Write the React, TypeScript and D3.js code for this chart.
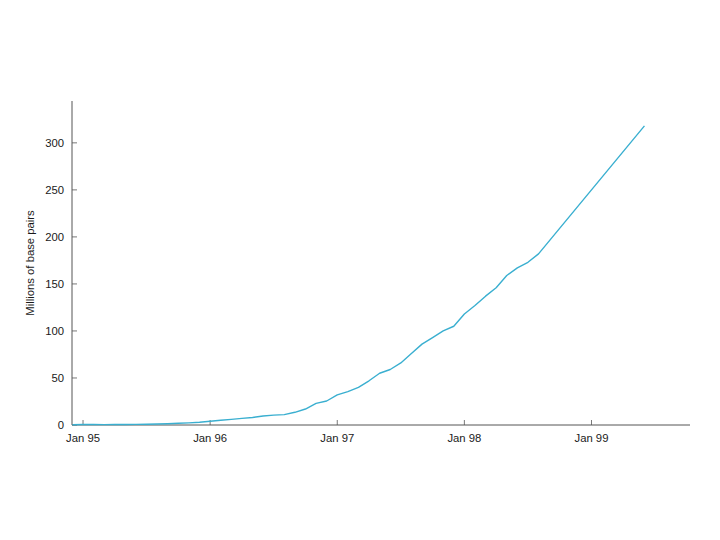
import { useEffect, useRef } from 'react';
import * as d3 from 'd3';

// month index counted from Jan 1995
const months = [-1, 0, 1, 2, 3, 4, 5, 6, 7, 8, 9, 10, 11, 12, 13, 14, 15, 16, 17, 18, 19, 20, 21, 22, 23, 24, 25, 26, 27, 28, 29, 30, 31, 32, 33, 34, 35, 36, 37, 38, 39, 40, 41, 42, 43, 53];
const basePairs = [0.3, 0.5, 0.5, 0.4, 0.5, 0.6, 0.7, 0.8, 1, 1.4, 1.8, 2.3, 3, 4, 5, 6, 7, 8, 9.5, 10.5, 11, 13.5, 17, 23, 25.5, 32, 35.5, 40, 47, 55, 59, 66, 76, 86, 93, 100, 105, 118, 127, 137, 146, 159, 167, 173, 182, 318];

const tickMonths = [0, 12, 24, 36, 48];
const tickLabels = ['Jan 95', 'Jan 96', 'Jan 97', 'Jan 98', 'Jan 99'];
const yTicks = [0, 50, 100, 150, 200, 250, 300];

export default function App() {
  const svgRef = useRef<SVGSVGElement>(null);

  useEffect(() => {
    if (!svgRef.current) return;
    const width = 720;
    const height = 540;
    const left = 72;
    const right = 690;
    const top = 101;
    const bottom = 425;

    const svg = d3.select(svgRef.current);
    svg.selectAll('*').remove();

    const x = d3.scaleLinear().domain([-1.04, 57.3]).range([left, right]);
    const y = d3.scaleLinear().domain([0, 344.5]).range([bottom, top]);

    const font = '"Liberation Sans", Arial, sans-serif';
    const fontSize = 11.3;
    const axisColor = '#555';

    // y axis
    const yAxis = svg.append('g').attr('transform', `translate(${left},0)`);
    yAxis.append('line').attr('x1', 0).attr('x2', 0).attr('y1', top).attr('y2', bottom)
      .attr('stroke', axisColor).attr('stroke-width', 1);
    yTicks.forEach(t => {
      yAxis.append('line').attr('x1', 0).attr('x2', 5).attr('y1', y(t)).attr('y2', y(t))
        .attr('stroke', axisColor).attr('stroke-width', 0.8);
      yAxis.append('text').attr('x', -8).attr('y', y(t)).attr('dy', '0.35em')
        .attr('text-anchor', 'end').attr('font-family', font).attr('font-size', fontSize)
        .attr('fill', '#1a1a1a').text(t);
    });

    // x axis
    const xAxis = svg.append('g').attr('transform', `translate(0,${bottom})`);
    xAxis.append('line').attr('x1', left).attr('x2', right).attr('y1', 0).attr('y2', 0)
      .attr('stroke', axisColor).attr('stroke-width', 1);
    tickMonths.forEach((m, i) => {
      xAxis.append('line').attr('x1', x(m)).attr('x2', x(m)).attr('y1', 0).attr('y2', -5)
        .attr('stroke', axisColor).attr('stroke-width', 0.8);
      xAxis.append('text').attr('x', x(m)).attr('y', 13).attr('dy', '0.35em')
        .attr('text-anchor', 'middle').attr('font-family', font).attr('font-size', fontSize)
        .attr('fill', '#1a1a1a').text(tickLabels[i]);
    });

    // y label
    svg.append('text')
      .attr('transform', `translate(34,${(top + bottom) / 2}) rotate(-90)`)
      .attr('text-anchor', 'middle').attr('font-family', font).attr('font-size', fontSize)
      .attr('fill', '#1a1a1a').text('Millions of base pairs');

    const line = d3.line<number>()
      .x((_, i) => x(months[i]))
      .y(d => y(d));

    svg.append('path').datum(basePairs)
      .attr('d', line)
      .attr('fill', 'none')
      .attr('stroke', '#3aafd0')
      .attr('stroke-width', 1.4)
      .attr('stroke-linejoin', 'round');

    svg.attr('width', width).attr('height', height);
  }, []);

  return (
    <svg ref={svgRef} width={720} height={540}
      style={{ position: 'absolute', left: 0, top: 0, background: '#fff' }} />
  );
}
